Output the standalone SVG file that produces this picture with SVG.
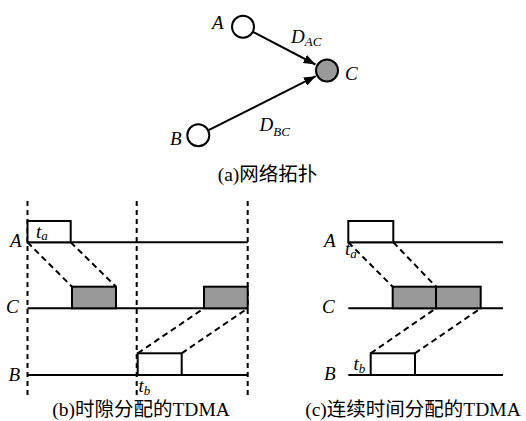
<svg xmlns="http://www.w3.org/2000/svg" width="526" height="421" viewBox="0 0 526 421">
<style>
.lbl{font-family:"Liberation Serif","Noto Sans CJK SC",serif;font-style:italic;font-size:19px;fill:#000}
.sub{font-size:13px}
.cap{font-family:"Liberation Serif","Noto Sans CJK SC",serif;font-size:19.5px;fill:#000}
.ln{stroke:#000;stroke-width:2;fill:none}
.vd{stroke:#000;stroke-width:2;stroke-dasharray:5,4;fill:none}
.dd{stroke:#000;stroke-width:2;stroke-dasharray:6,4;fill:none}
.box{stroke:#000;stroke-width:2;fill:#fff}
.gbox{stroke:#000;stroke-width:2;fill:#999}
.node{stroke:#000;stroke-width:2}
</style>
<defs>
<marker id="arr" viewBox="0 0 12 9" refX="12" refY="4.5" markerWidth="12" markerHeight="9" markerUnits="userSpaceOnUse" orient="auto">
<path d="M0,0 L12,4.5 L0,9 Z" fill="#000"/>
</marker>
</defs>
<rect width="526" height="421" fill="#fff"/>
<!-- (a) topology -->
<g id="connectors">
<line class="ln" x1="252.8" y1="31.8" x2="315.5" y2="64.5" marker-end="url(#arr)"/>
<line class="ln" x1="208.1" y1="130.4" x2="315.8" y2="76.2" marker-end="url(#arr)"/>
</g>
<g id="nodeA"><circle class="node" cx="243" cy="26.7" r="11" fill="#fff"/><text class="lbl" x="212" y="29">A</text></g>
<g id="nodeC"><circle class="node" cx="327" cy="70.5" r="11" fill="#999"/><text class="lbl" x="345" y="80">C</text></g>
<g id="nodeB"><circle class="node" cx="198.3" cy="135.3" r="11" fill="#fff"/><text class="lbl" x="170" y="145">B</text></g>
<text class="lbl" x="291" y="42.5">D<tspan class="sub" dy="3">AC</tspan></text>
<text class="lbl" x="259.5" y="130.5">D<tspan class="sub" dy="5">BC</tspan></text>
<text class="cap" x="267.5" y="181" text-anchor="middle">(a)网络拓扑</text>
<!-- (b) slotted TDMA -->
<g id="timing-b">
<line class="vd" x1="27.5" y1="201" x2="27.5" y2="398"/>
<line class="vd" x1="136.7" y1="201" x2="136.7" y2="398"/>
<line class="vd" x1="247.7" y1="201" x2="247.7" y2="398"/>
<line class="ln" x1="27.5" y1="242.3" x2="247.7" y2="242.3"/>
<line class="ln" x1="27.5" y1="308.3" x2="247.7" y2="308.3"/>
<line class="ln" x1="27.5" y1="375" x2="247.7" y2="375"/>
<rect class="box" x="27.5" y="221" width="43.2" height="21.3"/>
<rect class="gbox" x="72" y="286.7" width="44" height="21.6"/>
<rect class="gbox" x="204" y="286.7" width="43.7" height="21.6"/>
<rect class="box" x="137.7" y="353.3" width="44" height="21.7"/>
<line class="dd" x1="27.5" y1="242.3" x2="72" y2="286.7"/>
<line class="dd" x1="70.7" y1="242.3" x2="116" y2="286.7"/>
<line class="dd" x1="137.7" y1="353.3" x2="204" y2="308.3"/>
<line class="dd" x1="181.7" y1="353.3" x2="247.7" y2="308.3"/>
<text class="lbl" x="10" y="246.5">A</text>
<text class="lbl" x="6" y="312.7">C</text>
<text class="lbl" x="8.5" y="380.7">B</text>
<text class="lbl" x="36" y="238">t<tspan class="sub" dy="2">a</tspan></text>
<text class="lbl" x="138.5" y="392">t<tspan class="sub" dy="3">b</tspan></text>
<text class="cap" x="141" y="416" text-anchor="middle">(b)时隙分配的TDMA</text>
</g>
<!-- (c) continuous TDMA -->
<g id="timing-c">
<line class="ln" x1="348.3" y1="242.3" x2="503" y2="242.3"/>
<line class="ln" x1="348.3" y1="308.3" x2="503" y2="308.3"/>
<line class="ln" x1="348.3" y1="375" x2="503" y2="375"/>
<rect class="box" x="348.3" y="221" width="45" height="21.3"/>
<rect class="gbox" x="392.7" y="286.7" width="43.3" height="21.6"/>
<rect class="gbox" x="436" y="286.7" width="44.7" height="21.6"/>
<rect class="box" x="370.7" y="353.3" width="44.3" height="21.7"/>
<line class="dd" x1="348.3" y1="242.3" x2="392.7" y2="286.7"/>
<line class="dd" x1="393.3" y1="242.3" x2="436" y2="286.7"/>
<line class="dd" x1="370.7" y1="353.3" x2="436" y2="308.3"/>
<line class="dd" x1="415" y1="353.3" x2="480.7" y2="308.3"/>
<text class="lbl" x="324" y="246.5">A</text>
<text class="lbl" x="322" y="312.7">C</text>
<text class="lbl" x="324" y="380">B</text>
<text class="lbl" x="345" y="255">t<tspan class="sub" dy="3">a</tspan></text>
<text class="lbl" x="353.5" y="370">t<tspan class="sub" dy="3">b</tspan></text>
<text class="cap" x="413" y="416" text-anchor="middle">(c)连续时间分配的TDMA</text>
</g>
</svg>
